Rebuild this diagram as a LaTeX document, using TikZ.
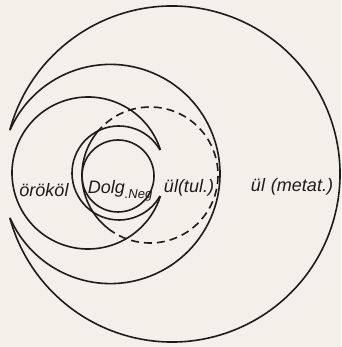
\documentclass[tikz,border=0pt]{standalone}
\usepackage{fontspec}
\setmainfont{Liberation Sans}
\definecolor{PaperCream}{RGB}{242, 240, 232}
\definecolor{InkDark}{RGB}{30, 27, 24}
\usepackage{tikz}
\tikzset{
  rim/.style={line width=1.6pt, draw=InkDark},
  rimdash/.style={rim, dash pattern=on 8pt off 5pt},
  lbl/.style={font=\fontsize{18}{20}\selectfont\itshape, text=InkDark,
              inner sep=0pt, align=center},
}

\begin{document}
\begin{tikzpicture}[x=1pt, y=1pt]
  \fill[PaperCream] (0,0) rectangle (341,347);
  \useasboundingbox (0,0) rectangle (341,347);

  % outer lune (metat.)
  \draw[rim] (172,173) ++(164.9:168) arc[start angle=164.9, end angle=-164.9, radius=168];
  \draw[rim] (110.4,173) ++(156.3:109.6) arc[start angle=156.3, end angle=-156.3, radius=109.6];

  % lune of the inheritance
  \draw[rim] (88,174) ++(17.7:76) arc[start angle=17.7, end angle=342.3, radius=76];
  \draw[rim] (119,174) ++(29.3:47) arc[start angle=29.3, end angle=330.7, radius=47];

  % circle (tul.), half dashed
  \draw[rim] (150,172) ++(135:68) arc[start angle=135, end angle=232, radius=68];
  \draw[rimdash] (150,172) ++(232:68) arc[start angle=232, end angle=495, radius=68];

  % inner circle
  \draw[rim] (118,171) circle[radius=36];

  \node[lbl] (orokol) at (44,157) {örököl};
  \node[lbl] (dolg) at (120,156) {Dolg\raisebox{-5pt}{\fontsize{13}{14}\selectfont.Neg}};
  \node[lbl] (ultul) at (189,159) {ül(tul.)};
  \node[lbl] (ulmetat) at (292,160) {ül\,\,(metat.)};
\end{tikzpicture}
\end{document}
